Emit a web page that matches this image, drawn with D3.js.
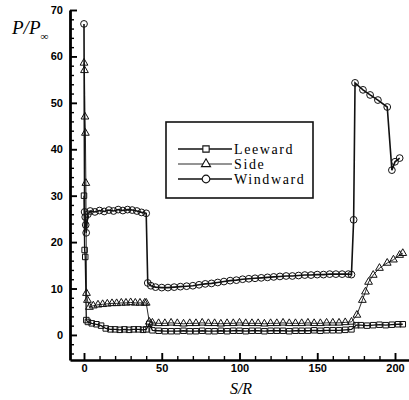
<!DOCTYPE html>
<html>
<head>
<meta charset="utf-8">
<script src="https://cdn.jsdelivr.net/npm/d3@7"></script>
<style>
  body { margin: 0; background: #fff; }
  .tick text { font-family: "Liberation Sans", Arial, sans-serif; font-weight: bold; font-size: 11px; }
</style>
</head>
<body>
<div id="chart"></div>
<script>
//chart size
var svgWidth = 409;
var svgHeight = 400;

//data
var leewardS = [0, 0.4, 0.8, 1.5, 2.5, 5, 8, 11, 14, 17, 20, 23, 26, 29, 32, 35, 38, 40,
  42, 44, 48, 52, 56, 60, 64, 68, 72, 76, 80, 84, 88, 92, 96, 100, 104, 108, 112, 116, 120,
  124, 128, 132, 136, 140, 144, 148, 152, 156, 160, 164, 168, 172,
  175, 178, 182, 186, 190, 194, 198, 202, 205];
var leewardP = [30, 18.3, 16.8, 3.2, 2.8, 2.5, 2.3, 2.0, 1.4, 1.2, 1.2, 1.1, 1.2, 1.1, 1.2, 1.2, 1.1, 1.2,
  2.4, 1.0, 0.9, 0.8, 0.8, 0.8, 0.9, 0.8, 0.8, 0.9, 0.8, 0.8, 0.9, 0.8, 0.9, 0.9, 0.8, 0.9, 0.9, 0.8, 0.9,
  0.9, 0.9, 0.8, 0.9, 0.9, 0.9, 1.0, 0.9, 1.0, 1.0, 1.0, 1.1, 1.2,
  2.1, 2.1, 2.0, 2.1, 2.2, 2.1, 2.2, 2.3, 2.3];

var sideS = [0, 0.3, 0.6, 0.9, 1.2, 1.6, 2.2, 3.5, 6, 9, 12, 15, 18, 21, 24, 27, 30, 33, 36, 39, 40,
  42, 44, 48, 52, 56, 60, 64, 68, 72, 76, 80, 84, 88, 92, 96, 100, 104, 108, 112, 116, 120,
  124, 128, 132, 136, 140, 144, 148, 152, 156, 160, 164, 168, 172,
  175.5, 179, 181, 183, 186, 190, 195, 199, 203, 205];
var sideP = [58.6, 57, 47, 43.5, 32.7, 9, 7.5, 6.0, 6.3, 6.5, 6.6, 6.7, 6.8, 6.8, 6.9, 6.9, 7.0, 6.9, 6.9, 6.9, 6.9,
  2.8, 2.6, 2.5, 2.5, 2.6, 2.5, 2.4, 2.5, 2.5, 2.6, 2.5, 2.5, 2.4, 2.5, 2.5, 2.6, 2.5, 2.5, 2.5, 2.4, 2.5,
  2.5, 2.6, 2.5, 2.5, 2.5, 2.6, 2.5, 2.5, 2.6, 2.6, 2.6, 2.7, 2.8,
  4.3, 7.5, 9.3, 11.4, 12.9, 14.4, 15.5, 16.2, 17.2, 17.6];

var windwardS = [0, 0.4, 0.8, 1.1, 1.4, 2.5, 4, 7, 10, 13, 16, 19, 22, 25, 28, 31, 34, 37, 40,
  41, 43, 46, 50, 54, 58, 62, 66, 70, 74, 78, 82, 86, 90, 94, 98, 102, 106, 110, 114, 118,
  122, 126, 130, 134, 138, 142, 146, 150, 154, 158, 162, 166, 170, 172,
  173.4, 174.3, 179.4, 184, 189, 195, 198, 200, 203];
var windwardP = [67, 26.5, 25.4, 23.7, 22, 26, 26.7, 26.5, 26.8, 26.6, 26.9, 26.7, 27, 26.8, 27, 26.9, 26.7, 26.4, 26.2,
  11.2, 10.6, 10.3, 10.2, 10.2, 10.3, 10.4, 10.5, 10.6, 10.8, 11, 11.1, 11.3, 11.5, 11.7, 11.8, 12.0, 12.1, 12.2, 12.3, 12.4,
  12.5, 12.6, 12.7, 12.7, 12.8, 12.9, 12.9, 13.0, 13.0, 13.1, 13.1, 13.1, 13.1, 13.0,
  24.8, 54.3, 52.8, 51.7, 50.6, 49.1, 35.5, 37.3, 38.1];

var xMajor = [0, 50, 100, 150, 200];
var yMajor = [0, 10, 20, 30, 40, 50, 60, 70];
var legendNames = ["Leeward", "Side", "Windward"];

var svg = d3.select("#chart")
  .append("svg")
  .attr("width", svgWidth)
  .attr("height", svgHeight);

//scales
var x = d3.scaleLinear().domain([-9, 209]).range([70, 409]);
var y = d3.scaleLinear().domain([-5.4, 70]).range([360, 10]);

//minor ticks
var xMinor = d3.range(0, 210, 10).filter(d => xMajor.indexOf(d) < 0);
var yMinor = d3.range(-4, 71, 2).filter(d => yMajor.indexOf(d) < 0);

svg.append("g")
  .attr("transform", "translate(0,360)")
  .call(d3.axisBottom(x).tickValues(xMinor).tickFormat("").tickSizeInner(-4).tickSizeOuter(0))
  .call(g => g.select(".domain").remove())
  .selectAll("line").attr("stroke-width", 1.4);

svg.append("g")
  .attr("transform", "translate(70,0)")
  .call(d3.axisLeft(y).tickValues(yMinor).tickFormat("").tickSizeInner(-4).tickSizeOuter(0))
  .call(g => g.select(".domain").remove())
  .selectAll("line").attr("stroke-width", 1.4);

//major axes
var xAxis = svg.append("g")
  .attr("transform", "translate(0,360)")
  .call(d3.axisBottom(x).tickValues(xMajor).tickSizeInner(-7).tickSizeOuter(0).tickPadding(4));
xAxis.select(".domain").attr("stroke-width", 2.5);
xAxis.selectAll(".tick line").attr("stroke-width", 1.9);

var yAxis = svg.append("g")
  .attr("transform", "translate(70,0)")
  .call(d3.axisLeft(y).tickValues(yMajor).tickSizeInner(-7).tickSizeOuter(0).tickPadding(7));
yAxis.select(".domain").attr("stroke-width", 2.8);
yAxis.selectAll(".tick line").attr("stroke-width", 1.9);

//series
var series = [
  {name: "Leeward", s: leewardS, p: leewardP, width: 1.3, sym: d3.symbolSquare, size: 30},
  {name: "Side", s: sideS, p: sideP, width: 0.9, sym: d3.symbolTriangle, size: 26},
  {name: "Windward", s: windwardS, p: windwardP, width: 1.6, sym: d3.symbolCircle, size: 36}
];

var line = d3.line().x(d => x(d[0])).y(d => y(d[1]));

series.forEach(function(ser) {
  var pts = ser.s.map((v, i) => [v, ser.p[i]]);
  svg.append("path")
    .datum(pts)
    .attr("d", line)
    .attr("fill", "none")
    .attr("stroke", "#111")
    .attr("stroke-width", ser.width);
  svg.append("g").selectAll("path")
    .data(pts)
    .enter()
    .append("path")
    .attr("transform", d => `translate(${x(d[0])},${y(d[1])})`)
    .attr("d", d3.symbol().type(ser.sym).size(ser.size))
    .attr("fill", "none")
    .attr("stroke", "#111")
    .attr("stroke-width", 1);
});

//legend
var legend = svg.append("g");
legend.append("rect")
  .attr("x", 166).attr("y", 122)
  .attr("width", 147).attr("height", 76)
  .attr("fill", "#fff")
  .attr("stroke", "#111")
  .attr("stroke-width", 1.6);

var legendY = [149, 164, 179];
series.forEach(function(ser, i) {
  legend.append("line")
    .attr("x1", 178).attr("x2", 232)
    .attr("y1", legendY[i]).attr("y2", legendY[i])
    .attr("stroke", "#111")
    .attr("stroke-width", ser.width);
  legend.append("path")
    .attr("transform", `translate(206,${legendY[i]})`)
    .attr("d", d3.symbol().type(ser.sym).size(ser.size + 10))
    .attr("fill", "#fff")
    .attr("stroke", "#111")
    .attr("stroke-width", 1.1);
  legend.append("text")
    .attr("x", 234)
    .attr("y", legendY[i])
    .attr("dy", "0.35em")
    .style("font-family", "'Liberation Serif', 'Times New Roman', serif")
    .style("font-size", "14px")
    .style("letter-spacing", "1.6px")
    .text(legendNames[i]);
});

//axis titles
var yTitle = svg.append("text")
  .attr("x", 12)
  .attr("y", 34)
  .style("font-family", "'Liberation Serif', 'Times New Roman', serif")
  .style("font-style", "italic")
  .style("font-size", "19px");
yTitle.append("tspan").text("P/P");
yTitle.append("tspan")
  .attr("dy", 6)
  .style("font-size", "11px")
  .text("∞");

svg.append("text")
  .attr("x", 241)
  .attr("y", 394)
  .attr("text-anchor", "middle")
  .style("font-family", "'Liberation Serif', 'Times New Roman', serif")
  .style("font-style", "italic")
  .style("font-size", "16px")
  .text("S/R");
</script>
</body>
</html>
